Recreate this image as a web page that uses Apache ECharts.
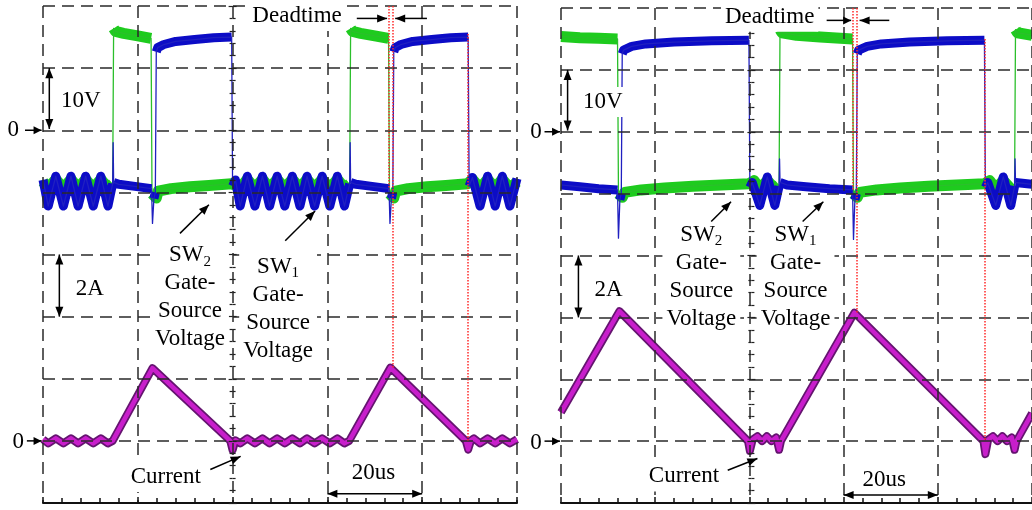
<!DOCTYPE html>
<html><head><meta charset="utf-8">
<script src="https://cdn.jsdelivr.net/npm/echarts@6/dist/echarts.min.js"></script>
<style>html,body{margin:0;padding:0;background:#fff}#c{width:1032px;height:510px}</style>
</head><body><div id="c"></div>
<script>
// time in microseconds, gate-source voltage in V, inductor current in A
const timeRange = [0, 100, 20];       // min, max, interval (us)
const voltRange = [-60, 20, 10];      // 10 V / div
const currRange = [-2, 14, 2];        // 2 A / div

const leftGreen = [[0,-8.3],[1.1,-9.3],[2.7,-7.9],[4.3,-9.3],[5.9,-7.9],[7.4,-9.3],[9.0,-7.9],[10.6,-9.3],[12.2,-7.9],[13.7,-9.3],[14.7,-8.6],
 [14.9,16.4],[15.3,15.9],[17,15.6],[20,15.2],[22.8,14.8],
 [23.0,-10.2],[23.9,-10.9],[24.3,-9.8],[27,-9.4],[31,-9.1],[35,-8.9],[39.8,-8.6],
 [41.6,-9.3],[43.1,-7.9],[44.7,-9.3],[46.3,-7.9],[47.8,-9.3],[49.4,-7.9],[51.0,-9.3],[52.6,-7.9],[54.2,-9.3],[55.7,-7.9],[57.3,-9.3],[58.9,-7.9],[60.5,-9.3],[62.1,-7.9],[63.6,-9.3],[64.7,-8.6],
 [64.9,16.4],[65.3,15.9],[67,15.6],[70,15.2],[72.9,14.8],
 [73.1,-10.2],[74.0,-10.9],[74.4,-9.8],[77,-9.4],[81,-9.1],[85,-8.9],[89.6,-8.6],
 [90.6,-7.9],[92.2,-9.3],[93.8,-7.9],[95.4,-9.3],[96.9,-7.9],[98.5,-9.3],[100,-8.3]];

const leftBlue = [[0,-8.0],[1.1,-12.2],[2.7,-7.4],[4.3,-12.2],[5.9,-7.4],[7.4,-12.2],[9.0,-7.4],[10.6,-12.2],[12.2,-7.4],[13.7,-12.2],[14.7,-8.6],
 [14.8,-2.0],[14.9,-8.4],[16,-8.7],[19,-9.0],[22.9,-9.4],
 [23.1,-15.0],[23.4,-11.0],[23.7,-10.0],[23.9,12.6],[24.2,13.3],[25.5,13.8],[28,14.3],[32,14.6],[36,14.9],[39.8,15.0],
 [40.0,-9.0],[40.6,-8.0],[41.6,-12.2],[43.1,-7.4],[44.7,-12.2],[46.3,-7.4],[47.8,-12.2],[49.4,-7.4],[51.0,-12.2],[52.6,-7.4],[54.2,-12.2],[55.7,-7.4],[57.3,-12.2],[58.9,-7.4],[60.5,-12.2],[62.1,-7.4],[63.6,-12.2],[64.7,-8.6],
 [64.8,-2.0],[64.9,-8.4],[66,-8.7],[69,-9.0],[73.0,-9.4],
 [73.2,-15.0],[73.5,-11.0],[73.8,-10.0],[74.0,12.6],[74.3,13.3],[75.5,13.8],[78,14.3],[82,14.6],[86,14.9],[89.7,15.0],
 [89.9,-9.0],[90.6,-7.6],[92.2,-12.2],[93.8,-7.4],[95.4,-12.2],[96.9,-7.4],[98.5,-12.2],[100,-7.8]];

const leftCurrent = [[0,0.05],[1.1,-0.08],[2.7,0.08],[4.3,-0.08],[5.9,0.08],[7.4,-0.08],[9.0,0.08],[10.6,-0.08],[12.2,0.08],[13.7,-0.08],[14.7,0.0],
 [23.1,2.34],
 [39.5,0.0],[40.0,-0.3],[40.6,0.02],[41.6,-0.08],[43.1,0.08],[44.7,-0.08],[46.3,0.08],[47.8,-0.08],[49.4,0.08],[51.0,-0.08],[52.6,0.08],[54.2,-0.08],[55.7,0.08],[57.3,-0.08],[58.9,0.08],[60.5,-0.08],[62.1,0.08],[63.6,-0.08],[64.6,0.0],
 [73.3,2.36],
 [89.2,0.0],[89.7,-0.28],[90.3,0.02],[90.9,0.08],[92.2,-0.08],[93.8,0.08],[95.4,-0.08],[96.9,0.08],[98.5,-0.08],[100,0.05]];

const rightGreen = [[0,15.4],[4,15.2],[8,15.1],[12.0,15.0],
 [12.2,-10.0],[13.0,-10.6],[13.5,-9.8],[17,-9.4],[22,-9.1],[28,-8.8],[34,-8.6],[39.9,-8.4],
 [41.0,-7.9],[42.2,-9.2],[43.8,-7.9],[45.4,-9.2],[46.3,-8.6],
 [46.5,16.5],[46.9,16.0],[50,15.6],[55,15.3],[61.9,15.0],
 [62.1,-10.0],[62.9,-10.6],[63.4,-9.8],[67,-9.4],[72,-9.1],[78,-8.8],[84,-8.6],[89.9,-8.4],
 [91.0,-7.9],[92.3,-9.2],[93.9,-7.9],[95.5,-9.2],[96.3,-8.6],
 [96.5,16.5],[96.9,16.0],[100,15.6]];

const rightBlue = [[0,-8.6],[4,-8.9],[8,-9.2],[12.0,-9.4],
 [12.2,-17.2],[12.5,-11.0],[12.8,-10.0],[13.0,12.6],[13.3,13.2],[15,13.8],[18,14.2],[24,14.5],[32,14.7],[39.9,14.8],
 [40.1,-9.0],[40.6,-8.2],[42.2,-11.9],[43.8,-7.3],[45.4,-11.9],[46.3,-8.8],
 [46.4,-4.4],[46.5,-8.2],[48,-8.6],[52,-8.9],[57,-9.2],[61.9,-9.4],
 [62.1,-17.4],[62.4,-11.0],[62.7,-10.0],[62.9,12.6],[63.2,13.2],[65,13.8],[68,14.2],[74,14.5],[82,14.7],[89.9,14.8],
 [90.1,-9.0],[90.6,-8.2],[92.3,-11.9],[93.9,-7.3],[95.5,-11.9],[96.3,-8.8],
 [96.4,-4.4],[96.5,-8.2],[100,-8.5]];

const rightCurrent = [[0,0.93],[12.4,4.2],[39.7,0.0],[40.1,-0.32],[40.7,0.05],[41.7,0.16],[42.7,0.0],[43.7,0.16],[44.7,0.0],[45.7,0.12],[46.3,-0.28],[46.7,0.0],
 [62.3,4.15],[89.7,0.0],[90.1,-0.42],[90.7,0.05],[91.7,0.16],[92.7,0.0],[93.7,0.16],[94.7,0.0],[95.7,0.12],[96.3,-0.28],[96.7,0.0],[100,0.9]];

// red dotted cursors: [time, from current-axis value, to current-axis value]
const leftCursors = [[72.95,14,8.1],[73.85,14,2.34],[89.65,13.1,0]];
const rightCursors = [[62.0,14,8.1],[62.85,14,4.15],[90.05,13.0,0]];

const FONT = '"Liberation Serif","Times New Roman",serif';
const GRIDC = '#2a2a2a';
const dash = {color: GRIDC, width: 1.5, type: [12, 7]};

const grids = [
  {left: 43, top: 6, width: 474, height: 497},
  {left: 561, top: 8, width: 476, height: 495}
];

function splitEdges(pts, thr) {
  const out = [pts[0]];
  for (let i = 1; i < pts.length; i++) {
    const a = pts[i-1], b = pts[i];
    const s = Math.abs((b[1]-a[1])/(b[0]-a[0]));
    if (s > thr) out.push([(a[0]+b[0])/2, null]);
    out.push(b);
  }
  return out;
}

const xAxis = [], yAxis = [], series = [];
[0,1].forEach(g => {
  const divW = grids[g].width / 5;
  xAxis.push({type:'value', gridIndex:g, min:timeRange[0], max:timeRange[1], interval:timeRange[2], z:5,
    axisLine:{show:true, onZero:false, lineStyle:{color:'#111', width:2}},
    axisTick:{show:true, inside:true, length:6, lineStyle:{color:'#111', width:1.5}},
    minorTick:{show:true, splitNumber:5, length:5, lineStyle:{color:'#111', width:1.5}},
    axisLabel:{show:false}, splitLine:{show:true, lineStyle:dash}});
  yAxis.push({type:'value', gridIndex:g, min:voltRange[0], max:voltRange[1], interval:voltRange[2], z:5,
    axisLine:{show:false}, axisTick:{show:false}, axisLabel:{show:false},
    splitLine:{show:true, lineStyle:dash}});
  yAxis.push({type:'value', gridIndex:g, min:currRange[0], max:currRange[1], interval:currRange[2], show:false, position:'right'});
  [false, true].forEach(inside => {
    yAxis.push({type:'value', gridIndex:g, min:0, max:8, interval:1, position:'left', offset:-2*divW, z:5,
      axisLine:{show:false, onZero:false},
      axisTick:{show:true, inside:inside, length:4, lineStyle:{color:'#222', width:1.2}},
      minorTick:{show:true, splitNumber:5, length:3, lineStyle:{color:'#222', width:1.2}},
      axisLabel:{show:false}, splitLine:{show:false}});
  });
});

function lineSeries(g, yOff, data, color, width, z, extra) {
  return Object.assign({type:'line', xAxisIndex:g, yAxisIndex:g*4+yOff, data:data, symbol:'none', showSymbol:false,
    connectNulls:false, animation:false, silent:true, z:z,
    lineStyle:{color:color, width:width, join:'round', cap:'butt'}}, extra || {});
}

const traces = [
  {green:leftGreen, blue:leftBlue, cur:leftCurrent, cursors:leftCursors},
  {green:rightGreen, blue:rightBlue, cur:rightCurrent, cursors:rightCursors}
];
traces.forEach((tr, g) => {
  series.push(lineSeries(g, 0, splitEdges(tr.green, 8), '#1ecb1e', 11, 2));
  series.push(lineSeries(g, 0, tr.green, '#2bbf2b', 1.3, 2));
  series.push(lineSeries(g, 0, splitEdges(tr.blue, 8), '#0c0cc6', 9, 3));
  series.push(lineSeries(g, 0, tr.blue, '#2020c0', 1.3, 3));
  series.push(lineSeries(g, 1, tr.cur, '#651470', 8, 3));
  series.push(lineSeries(g, 1, tr.cur, '#c81ecb', 4.5, 3, {
    markLine:{silent:true, animation:false, symbol:['none','none'], label:{show:false},
      lineStyle:{color:'#ff2a2a', type:'dotted', width:1.5},
      data: tr.cursors.map(c => [{coord:[c[0], c[1]]}, {coord:[c[0], c[2]]}])}
  }));
});

const chart = echarts.init(document.getElementById('c'), null, {renderer:'canvas'});
chart.setOption({animation:false, backgroundColor:'#fff', grid:grids, xAxis:xAxis, yAxis:yAxis, series:series});

// annotations, positioned in (time, voltage-axis) coordinates
const notes = [
  {texts:[['Deadtime',53.6,18.4],['0',-6.3,0],['10V',8.0,4.7],['2A',9.9,-25.6],['0',-5.2,-50.2],
          ['SW{s|2}\nGate-\nSource\nVoltage',31.0,-26.9],['SW{s|1}\nGate-\nSource\nVoltage',49.6,-28.7],
          ['Current',25.9,-55.8],['20us',69.7,-55.1]],
   arrows:[[[66.2,18.0],[72.6,18.0]],[[81.0,18.0],[74.3,18.0]],[[-3.8,0],[-0.3,0]],
           [[1.33,0.2],[1.33,10.0],true],[[3.45,-30],[3.45,-20],true],[[-3.4,-50],[-0.3,-50]],
           [[28.9,-16.6],[35.0,-12.0]],[[51.1,-17.8],[57.4,-13.0]],[[35.3,-54.6],[41.7,-52.5]],
           [[60,-58.5],[80,-58.5],true]]},
  {texts:[['Deadtime',44.3,18.6],['0',-5.3,0],['10V',8.9,4.8],['2A',10.1,-25.6],['0',-5.3,-50.3],
          ['SW{s|2}\nGate-\nSource\nVoltage',29.8,-23.4],['SW{s|1}\nGate-\nSource\nVoltage',49.8,-23.4],
          ['Current',26.1,-55.7],['20us',68.6,-56.2]],
   arrows:[[[56.4,18.0],[61.6,18.0]],[[69.7,18.0],[63.4,18.0]],[[-3.5,0],[-0.2,0]],
           [[1.4,0.2],[1.4,10.0],true],[[3.7,-30],[3.7,-20],true],[[-3.5,-50],[-0.2,-50]],
           [[31.9,-14.5],[36.1,-11.3]],[[51.3,-14.5],[55.7,-11.3]],[[35.4,-54.7],[41.7,-52.8]],
           [[60,-58.7],[80,-58.7],true]]}
];

function toPx(g, p) { return chart.convertToPixel({xAxisIndex:g, yAxisIndex:g*4}, p); }
function head(tip, from, L, W) {
  const dx = tip[0]-from[0], dy = tip[1]-from[1], d = Math.hypot(dx, dy);
  const ux = dx/d, uy = dy/d, bx = tip[0]-ux*L, by = tip[1]-uy*L;
  return {type:'polygon', z:101, shape:{points:[[tip[0],tip[1]],[bx-uy*W, by+ux*W],[bx+uy*W, by-ux*W]]}, style:{fill:'#000'}};
}
const elements = [];
notes.forEach((n, g) => {
  n.texts.forEach(t => {
    const p = toPx(g, [t[1], t[2]]);
    elements.push({type:'text', x:p[0], y:p[1], z:100, style:{text:t[0], fontSize:23, fontFamily:FONT, fill:'#000',
      align:'center', verticalAlign:'middle', lineHeight:28, backgroundColor:'#fff', padding:[1,4],
      rich:{s:{fontSize:15, fontFamily:FONT, fill:'#000', verticalAlign:'bottom', lineHeight:28}}}});
  });
  n.arrows.forEach(a => {
    const p1 = toPx(g, a[0]), p2 = toPx(g, a[1]);
    const len = Math.hypot(p2[0]-p1[0], p2[1]-p1[1]);
    const L = len < 25 ? 8 : 10, W = 4;
    elements.push({type:'line', z:101, shape:{x1:p1[0], y1:p1[1], x2:p2[0], y2:p2[1]}, style:{stroke:'#000', lineWidth:1.5}});
    elements.push(head(p2, p1, L, W));
    if (a[2]) elements.push(head(p1, p2, L, W));
  });
});
chart.setOption({graphic:{elements:elements}});
</script>
</body></html>
